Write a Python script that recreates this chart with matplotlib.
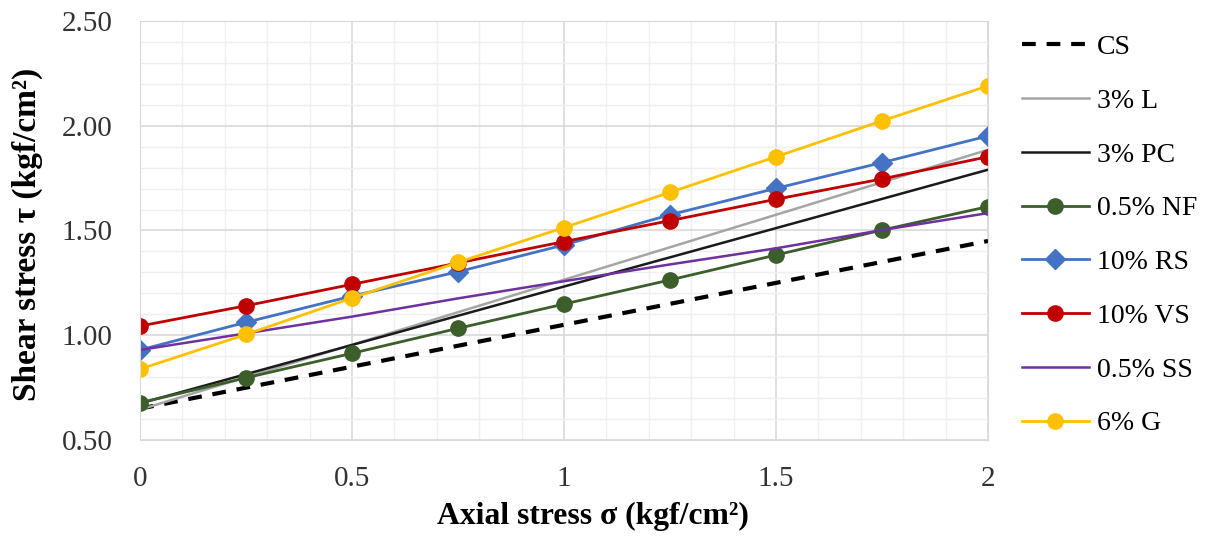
import matplotlib.pyplot as plt
import numpy as np
from matplotlib.ticker import MultipleLocator, FormatStrFormatter

plt.rcParams['font.family'] = ['Liberation Serif', 'DejaVu Serif']

# axial stress levels
x_pts = [0, 0.25, 0.5, 0.75, 1.0, 1.25, 1.5, 1.75, 2.0]
x_ends = [0, 2.0]

# shear stress readings
cs = [0.65, 1.45]
lime_3 = [0.645, 1.885]
pc_3 = [0.675, 1.79]
nf_05 = [0.678, 0.797, 0.914, 1.033, 1.149, 1.264, 1.383, 1.502, 1.614]
rs_10 = [0.930, 1.062, 1.187, 1.303, 1.431, 1.575, 1.701, 1.824, 1.951]
vs_10 = [1.044, 1.141, 1.243, 1.345, 1.447, 1.547, 1.649, 1.746, 1.852]
ss_05 = [0.930, 1.009, 1.089, 1.176, 1.258, 1.338, 1.415, 1.502, 1.583]
g_6 = [0.839, 1.004, 1.178, 1.348, 1.514, 1.682, 1.852, 2.023, 2.190]

fig = plt.figure(figsize=(12.21, 5.36), dpi=100)
ax = fig.add_axes([0.1147, 0.179, 0.6945, 0.782])

ax.plot(x_ends, cs, color='black', lw=3, ls=(0, (3.3, 2.6)), label='CS')
ax.plot(x_ends, lime_3, color='#A5A5A5', lw=1.8, label='3% L')
ax.plot(x_ends, pc_3, color='#1a1a1a', lw=1.8, label='3% PC')
ax.plot(x_pts, nf_05, color='#3B5E2B', lw=2, marker='o', ms=11, label='0.5% NF')
ax.plot(x_pts, rs_10, color='#4472C4', lw=2, marker='D', ms=10, label='10% RS')
ax.plot(x_pts, vs_10, color='#C00000', lw=2, marker='o', ms=11, label='10% VS')
ax.plot(x_pts, ss_05, color='#7030A0', lw=1.8, label='0.5% SS')
ax.plot(x_pts, g_6, color='#FFC000', lw=2, marker='o', ms=11, label='6% G')

ax.set_xlim(0, 2)
ax.set_ylim(0.5, 2.5)
ax.xaxis.set_major_locator(MultipleLocator(0.5))
ax.xaxis.set_minor_locator(MultipleLocator(0.1))
ax.yaxis.set_major_locator(MultipleLocator(0.5))
ax.yaxis.set_minor_locator(MultipleLocator(0.1))
ax.yaxis.set_major_formatter(FormatStrFormatter('%.2f'))
ax.xaxis.set_major_formatter(plt.FuncFormatter(lambda v, p: '%g' % v))

ax.grid(which='major', color='#d9d9d9', lw=1.2)
ax.grid(which='minor', color='#efefef', lw=1.0)
ax.set_axisbelow(True)
for s in ax.spines.values():
    s.set_color('#d9d9d9')
ax.tick_params(which='both', length=0, labelsize=21, colors='#333333')
ax.tick_params(axis='x', pad=19)
ax.tick_params(axis='y', pad=20)

ax.set_xlabel('Axial stress σ (kgf/cm²)', fontsize=22.8, fontweight='bold')
ax.set_ylabel('Shear stress τ (kgf/cm²)', fontsize=24, fontweight='bold')
ax.xaxis.set_label_coords(0.534, -0.148)
ax.yaxis.set_label_coords(-0.114, 0.49)

ax.legend(loc='upper left', bbox_to_anchor=(1.027, 0.994), frameon=False, fontsize=20,
          handlelength=2.4, handletextpad=0.3, labelspacing=1.02, borderaxespad=0.0)

fig.savefig('out.png', dpi=100)
